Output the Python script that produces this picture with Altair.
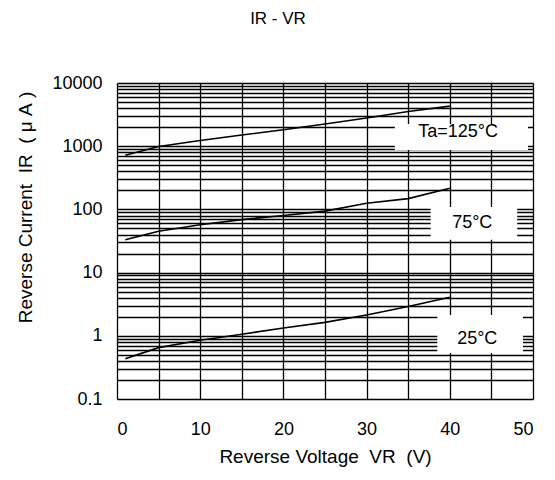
import altair as alt
import pandas as pd

# Curve data (Reverse voltage V, reverse current uA)
vr = [1, 5, 10, 15, 20, 25, 30, 35, 40]
ir_125 = [720, 990, 1230, 1500, 1820, 2240, 2800, 3540, 4300]
ir_75 = [33, 45, 57, 69, 80, 94, 125, 148, 216]
ir_25 = [0.435, 0.65, 0.85, 1.06, 1.33, 1.63, 2.14, 2.9, 4.07]

# Axis tick values
x_ticks = [0, 5, 10, 15, 20, 25, 30, 35, 40, 45, 50]
y_ticks = [0.1, 0.2, 0.3, 0.4, 0.5, 0.6, 0.7, 0.8, 0.9,
           1, 2, 3, 4, 5, 6, 7, 8, 9,
           10, 20, 30, 40, 50, 60, 70, 80, 90,
           100, 200, 300, 400, 500, 600, 700, 800, 900,
           1000, 2000, 3000, 4000, 5000, 6000, 7000, 8000, 9000,
           10000]

# Curve labels (data coordinates) and their white backing boxes
lab_text = ["Ta=125°C", "75°C", "25°C"]
lab_x = [41.0, 42.7, 43.3]
lab_y = [1650, 62, 0.9]
box_x1 = [33.4, 37.7, 38.5]
box_x2 = [49.4, 48.1, 48.8]
box_y1 = [870, 33, 0.535]
box_y2 = [2245, 109, 2.13]

curves = pd.DataFrame({
    "VR": vr * 3,
    "IR": ir_125 + ir_75 + ir_25,
    "series": ["125"] * len(vr) + ["75"] * len(vr) + ["25"] * len(vr),
})
labels = pd.DataFrame({"text": lab_text, "x": lab_x, "y": lab_y})
boxes = pd.DataFrame({"x1": box_x1, "x2": box_x2, "y1": box_y1, "y2": box_y2})

FONT = "Liberation Sans"
NB = "\u00a0"

xscale = alt.Scale(domain=[0, 50], nice=False, zero=False)
yscale = alt.Scale(type="log", domain=[0.1, 10000], nice=False)

xaxis = alt.Axis(
    values=x_ticks, grid=True, gridColor="black", gridWidth=1.3, gridOpacity=1,
    domain=False, ticks=False, labelFontSize=18, labelFont=FONT, labelColor="black",
    labelPadding=21, labelExpr="datum.value % 10 == 0 ? datum.label : ''",
    title=f"Reverse Voltage{NB}{NB}VR{NB}{NB}(V)", titleFont=FONT, titleFontSize=19,
    titleFontWeight="normal", titleColor="black", titlePadding=9,
)
yaxis = alt.Axis(
    values=y_ticks, format="~g", grid=True, gridColor="black", gridWidth=1.3,
    gridOpacity=1, domain=False, ticks=False, labelFontSize=18, labelFont=FONT,
    labelColor="black", labelPadding=15,
    labelExpr="abs(log(datum.value)/LN10 - round(log(datum.value)/LN10)) < 1e-6 ? datum.label : ''",
    title=f"Reverse Current{NB}{NB}IR{NB}{NB}({NB}μ{NB}A{NB})", titleFont=FONT, titleFontSize=19,
    titleFontWeight="normal", titleColor="black", titleX=-92, titleY=124,
    titleBaseline="middle", titleAngle=-90,
)

base_lines = alt.Chart(curves).mark_line(color="black", strokeWidth=1.6).encode(
    x=alt.X("VR:Q", scale=xscale, axis=xaxis),
    y=alt.Y("IR:Q", scale=yscale, axis=yaxis),
    detail="series:N",
)

box_layer = alt.Chart(boxes).mark_rect(color="white", opacity=1).encode(
    x=alt.X("x1:Q", scale=xscale),
    x2="x2:Q",
    y=alt.Y("y1:Q", scale=yscale),
    y2="y2:Q",
)

text_layer = alt.Chart(labels).mark_text(
    font=FONT, fontSize=18, color="black", align="center", baseline="middle"
).encode(
    x=alt.X("x:Q", scale=xscale),
    y=alt.Y("y:Q", scale=yscale),
    text="text:N",
)

chart = alt.layer(base_lines, box_layer, text_layer).properties(
    width=416,
    height=316,
    autosize=alt.AutoSizeParams(type="none"),
    padding={"left": 109, "top": 75, "right": 14, "bottom": 70},
    title=alt.TitleParams(
        text="IR - VR", font=FONT, fontSize=17, fontWeight="normal",
        color="black", anchor="middle", dx=-47, offset=33,
        baseline="alphabetic", frame="group",
    ),
).configure_view(stroke="black", strokeWidth=2).configure(background="white")

chart.save("out.html", embed_options={"renderer": "svg", "actions": False})
